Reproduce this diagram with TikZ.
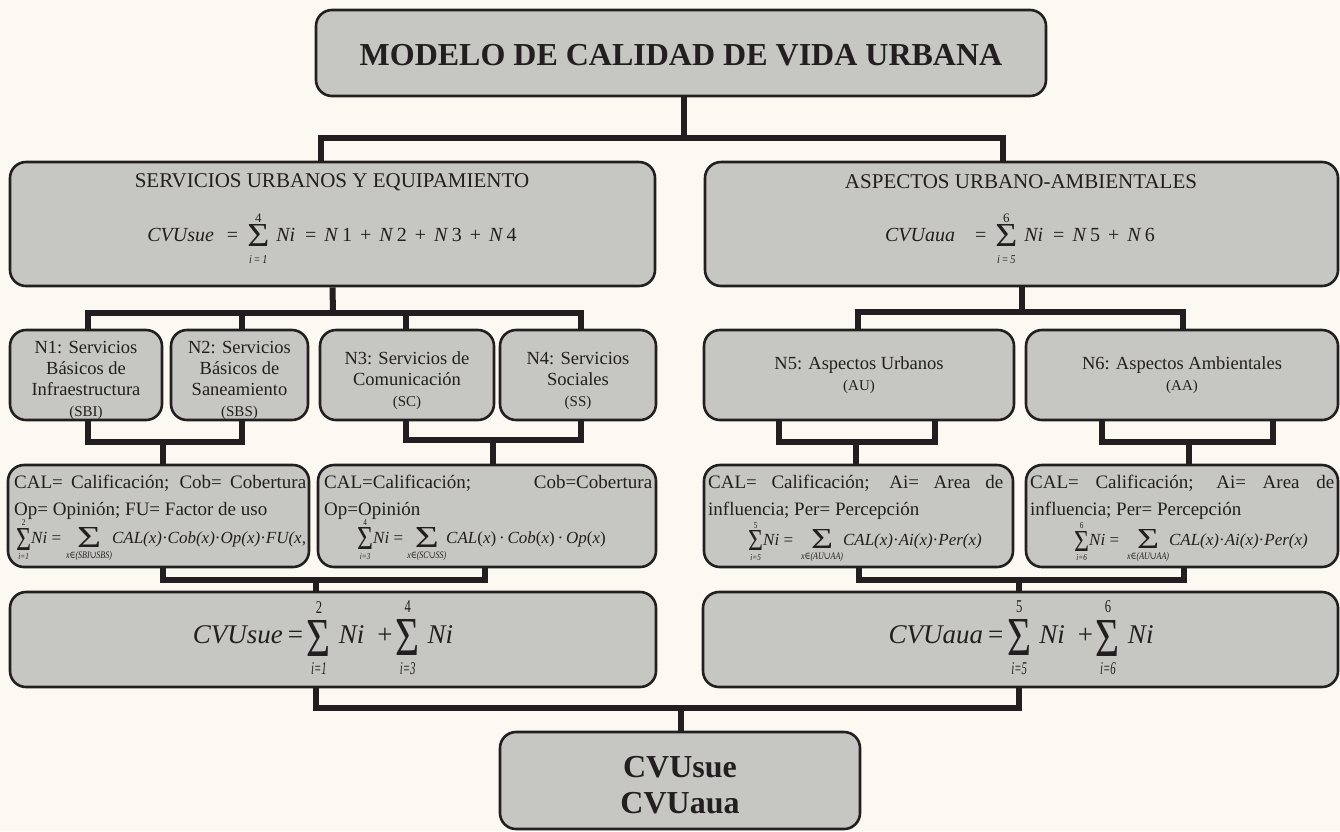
\documentclass[tikz,border=0pt]{standalone}
\usepackage{fontspec}
\usepackage{graphicx}
\setmainfont{Liberation Serif}
\newfontfamily\symf{DejaVu Serif}
\definecolor{bgc}{HTML}{FCF9F3}
\definecolor{boxc}{HTML}{C6C7C2}
\definecolor{ink}{HTML}{231F20}
\newcommand\fs[2]{\fontsize{#1}{#2}\selectfont}
% big sum: #1 width, #2 height of sigma, #3 gap above, #4 gap below,
% #5 upper limit, #6 lower limit, #7 extra top kern, #8 extra bottom kern
\newcommand\bsum[8]{\ensuremath{\vcenter{\offinterlineskip\halign{\hfil##\hfil\cr
  \noalign{\kern#7}#5\cr\noalign{\kern#3}
  \resizebox{#1}{#2}{Σ}\cr\noalign{\kern#4}
  #6\cr\noalign{\kern#8}}}}}
\newcommand\limt[3]{\scalebox{#1}[1]{\fs{#2}{#2}#3}}
\newcommand\Ni{\textit{Ni}}
\newcommand\mdot{\,·\,}
\newcommand\el{{\symf∈}}
\newcommand\un{{\symf∪}}
\tikzset{
  box/.style={draw=ink, line width=2.6pt, fill=boxc, rounded corners=16pt, inner sep=0pt},
  conn/.style={draw=ink, line width=6pt},
  txt/.style={inner sep=0pt, text=ink},
}
\begin{document}
\begin{tikzpicture}[x=1pt,y=-1pt]
\fill[bgc] (0,0) rectangle (1340,831);
\useasboundingbox (0,0) rectangle (1340,831);

% ---------- boxes ----------
\node[box, minimum width=730pt, minimum height=86pt] (top) at (681,53) {};
\node[box, minimum width=645pt, minimum height=124pt] (sue) at (332.5,224) {};
\node[box, minimum width=633pt, minimum height=124pt] (aua) at (1021.5,224) {};
\node[box, minimum width=152pt, minimum height=90pt] (n1) at (86,375) {};
\node[box, minimum width=137pt, minimum height=90pt] (n2) at (239.5,375) {};
\node[box, minimum width=174pt, minimum height=90pt] (n3) at (407,375) {};
\node[box, minimum width=156pt, minimum height=90pt] (n4) at (578,375) {};
\node[box, minimum width=310pt, minimum height=90pt] (n5) at (859,375) {};
\node[box, minimum width=312pt, minimum height=90pt] (n6) at (1182,375) {};
\node[box, minimum width=301pt, minimum height=102pt] (f1) at (158.5,516) {};
\node[box, minimum width=338pt, minimum height=102pt] (f2) at (487,516) {};
\node[box, minimum width=309pt, minimum height=102pt] (f3) at (858.5,516) {};
\node[box, minimum width=312pt, minimum height=102pt] (f4) at (1182,516) {};
\node[box, minimum width=646pt, minimum height=95pt] (s1) at (333,639.5) {};
\node[box, minimum width=635pt, minimum height=95pt] (s2) at (1020.5,639.5) {};
\node[box, minimum width=360pt, minimum height=97pt] (bt) at (680,780.5) {};

% ---------- connectors ----------
\coordinate (b1) at (684,138);
\draw[conn] ([xshift=3pt]top.south) -- (b1);
\draw[conn] ([xshift=-12pt]sue.north) |- (b1) -| ([xshift=-18.5pt]aua.north);

\coordinate (b2) at (333,313);
\draw[conn] (sue.south) -- (b2);
\draw[conn] ([xshift=2pt]n1.north) |- (b2) -| ([xshift=3pt]n4.north);
\draw[conn] ([xshift=2.5pt]n2.north) -- ([xshift=2.5pt]n2.north |- b2);
\draw[conn] ([xshift=-1pt]n3.north) -- ([xshift=-1pt]n3.north |- b2);

\coordinate (b3) at (1021.5,312);
\draw[conn] (aua.south) -- (b3);
\draw[conn] ([xshift=-1pt]n5.north) |- (b3) -| ([xshift=1pt]n6.north);

\coordinate (b4) at (163,442);
\draw[conn] ([xshift=2pt]n1.south) |- (b4) -| ([xshift=2.5pt]n2.south);
\draw[conn] (b4) -- ([xshift=4.5pt]f1.north);
\coordinate (b5) at (493,440);
\draw[conn] ([xshift=-1pt]n3.south) |- (b5) -| ([xshift=3pt]n4.south);
\draw[conn] (b5) -- ([xshift=6pt]f2.north);
\coordinate (b6) at (856,442);
\draw[conn] ([xshift=-80pt]n5.south) |- (b6) -| ([xshift=76pt]n5.south);
\draw[conn] (b6) -- ([xshift=-2.5pt]f3.north);
\coordinate (b7) at (1189,442);
\draw[conn] ([xshift=-80pt]n6.south) |- (b7) -| ([xshift=91pt]n6.south);
\draw[conn] (b7) -- ([xshift=7pt]f4.north);

\coordinate (b8) at (316,580);
\draw[conn] ([xshift=4.5pt]f1.south) |- (b8) -| ([xshift=-2pt]f2.south);
\draw[conn] (b8) -- ([xshift=-17pt]s1.north);
\coordinate (b9) at (1019,580);
\draw[conn] (f3.south) |- (b9) -| ([xshift=2pt]f4.south);
\draw[conn] (b9) -- ([xshift=-1.5pt]s2.north);

\coordinate (b10) at (681,708);
\draw[conn] ([xshift=-17pt]s1.south) |- (b10) -| ([xshift=-1.5pt]s2.south);
\draw[conn] (b10) -- ([xshift=1pt]bt.north);

% ---------- texts ----------
\node[txt, font=\fs{32}{36}\bfseries] (ttitle) at (681,55) {MODELO DE CALIDAD DE VIDA URBANA};

\node[txt, font=\fs{21}{25}] (tsue) at (332,182) {SERVICIOS URBANOS Y EQUIPAMIENTO};
\node[txt, font=\fs{20}{24}] (fsue) at (332,236)
  {\textit{CVUsue}\hspace{13pt}=\hspace{9pt}\bsum{22pt}{22pt}{2pt}{9pt}{\limt{1}{13}{4}}{\limt{0.85}{12}{\itshape i\,=\,1}}{5.5pt}{0pt}\hspace{7pt}\Ni\hspace{10pt}=\hspace{8pt}\textit{N}\,1\hspace{8pt}+\hspace{8pt}\textit{N}\,2\hspace{8pt}+\hspace{8pt}\textit{N}\,3\hspace{8pt}+\hspace{8pt}\textit{N}\,4};
\node[txt, font=\fs{21}{25}] (taua) at (1021,182) {ASPECTOS URBANO-AMBIENTALES};
\node[txt, font=\fs{20}{24}] (faua) at (1020,236)
  {\textit{CVUaua}\hspace{20pt}=\hspace{9pt}\bsum{22pt}{22pt}{2pt}{9pt}{\limt{1}{13}{6}}{\limt{0.85}{12}{\itshape i\,=\,5}}{5.5pt}{0pt}\hspace{7pt}\Ni\hspace{10pt}=\hspace{8pt}\textit{N}\,5\hspace{8pt}+\hspace{8pt}\textit{N}\,6};

\node[txt, font=\fs{18.5}{21}, align=center] (tn1) at (86,380) {N1: Servicios\\Básicos de\\Infraestructura\\{\fs{15}{18}(SBI)}};
\node[txt, font=\fs{18.5}{21}, align=center] (tn2) at (239.5,380) {N2: Servicios\\Básicos de\\Saneamiento\\{\fs{15}{18}(SBS)}};
\node[txt, font=\fs{18.5}{21}, align=center] (tn3) at (407,381) {N3: Servicios de\\Comunicación\\{\fs{15}{18}(SC)}};
\node[txt, font=\fs{18.5}{21}, align=center] (tn4) at (578,381) {N4: Servicios\\Sociales\\{\fs{15}{18}(SS)}};
\node[txt, font=\fs{18.5}{21}, align=center] (tn5) at (859,375.5) {N5: Aspectos Urbanos\\{\fs{15}{18}(AU)}};
\node[txt, font=\fs{18.5}{21}, align=center] (tn6) at (1182,375.5) {N6: Aspectos Ambientales\\{\fs{15}{18}(AA)}};

% F boxes
\node[txt, anchor=base west, font=\fs{19}{22}] (l1a) at (14,488) {\makebox[292pt][s]{CAL= Calificación; Cob= Cobertura}};
\node[txt, anchor=base west, font=\fs{19}{22}] (l1b) at (14,515) {Op= Opinión; FU= Factor de uso};
\node[txt, anchor=west, font=\fs{17}{20}] (m1) at (16,539)
  {\bsum{15pt}{22pt}{2.5pt}{4pt}{\limt{0.8}{9}{2}}{\limt{0.8}{9}{\itshape i=1}}{1.5pt}{0pt}\Ni{} =\hspace{5pt}\bsum{24pt}{20pt}{2.5pt}{4pt}{\limt{0.8}{9}{\phantom{2}}}{\limt{0.8}{10}{\itshape x\el(SBI\un SBS)}}{1.5pt}{0pt}\textit{CAL(x)}·\textit{Cob(x)}·\textit{Op(x)}·\textit{FU(x,}};

\node[txt, anchor=base west, font=\fs{19}{22}] (l2a) at (324,488) {\makebox[328pt][s]{CAL=Calificación; Cob=Cobertura}};
\node[txt, anchor=base west, font=\fs{19}{22}] (l2b) at (324,515) {Op=Opinión};
\node[txt, anchor=west, font=\fs{17}{20}] (m2) at (357,539)
  {\bsum{16pt}{22pt}{2.5pt}{4pt}{\limt{0.8}{9}{4}}{\limt{0.8}{9}{\itshape i=3}}{1.5pt}{0pt}\Ni{} = \bsum{24pt}{20pt}{2.5pt}{4pt}{\limt{0.8}{9}{\phantom{2}}}{\limt{0.8}{10}{\itshape x\el(SC\un SS)}}{1.5pt}{0pt}\textit{CAL}(\textit{x})\mdot\textit{Cob}(\textit{x})\mdot\textit{Op}(\textit{x})};

\node[txt, anchor=base west, font=\fs{19}{22}] (l3a) at (708,488) {\makebox[295pt][s]{CAL= Calificación; Ai= Area de}};
\node[txt, anchor=base west, font=\fs{19}{22}] (l3b) at (708,515) {influencia; Per= Percepción};
\node[txt, anchor=west, font=\fs{17}{20}] (m3) at (748,541)
  {\bsum{15pt}{20pt}{2.5pt}{4pt}{\limt{0.8}{9}{5}}{\limt{0.8}{9}{\itshape i=5}}{1.5pt}{0pt}\Ni{} =\hspace{8pt}\bsum{22pt}{19pt}{2.5pt}{4pt}{\limt{0.8}{9}{\phantom{2}}}{\limt{0.8}{10}{\itshape x\el(AU\un AA)}}{1.5pt}{0pt}\textit{CAL(x)}·\textit{Ai(x)}·\textit{Per(x)}};

\node[txt, anchor=base west, font=\fs{19}{22}] (l4a) at (1030,488) {\makebox[304pt][s]{CAL= Calificación; Ai= Area de}};
\node[txt, anchor=base west, font=\fs{19}{22}] (l4b) at (1030,515) {influencia; Per= Percepción};
\node[txt, anchor=west, font=\fs{17}{20}] (m4) at (1074,541)
  {\bsum{15pt}{20pt}{2.5pt}{4pt}{\limt{0.8}{9}{6}}{\limt{0.8}{9}{\itshape i=6}}{1.5pt}{0pt}\Ni{} =\hspace{8pt}\bsum{22pt}{19pt}{2.5pt}{4pt}{\limt{0.8}{9}{\phantom{2}}}{\limt{0.8}{10}{\itshape x\el(AU\un AA)}}{1.5pt}{0pt}\textit{CAL(x)}·\textit{Ai(x)}·\textit{Per(x)}};

% S boxes
\node[txt, font=\fs{27}{30}] (fs1) at (323,637)
  {\textit{CVUsue}\hspace{5pt}=\hspace{4pt}\bsum{24pt}{36pt}{7pt}{7pt}{\limt{0.7}{18}{2}}{\limt{0.6}{18}{\itshape i=1}}{2pt}{0pt}\hspace{8pt}\Ni\hspace{13pt}+\hspace{3pt}\bsum{24pt}{36pt}{7pt}{7pt}{\limt{0.7}{18}{4}}{\limt{0.6}{18}{\itshape i=3}}{2pt}{0pt}\hspace{8pt}\Ni};
\node[txt, font=\fs{27}{30}] (fs2) at (1021,637)
  {\textit{CVUaua}\hspace{5pt}=\hspace{4pt}\bsum{24pt}{36pt}{7pt}{7pt}{\limt{0.7}{18}{5}}{\limt{0.6}{18}{\itshape i=5}}{2pt}{0pt}\hspace{8pt}\Ni\hspace{13pt}+\hspace{3pt}\bsum{24pt}{36pt}{7pt}{7pt}{\limt{0.7}{18}{6}}{\limt{0.6}{18}{\itshape i=6}}{2pt}{0pt}\hspace{8pt}\Ni};

\node[txt, font=\fs{32}{36}\bfseries, align=center] (tb) at (680,785) {CVUsue\\CVUaua};
\end{tikzpicture}
\end{document}
